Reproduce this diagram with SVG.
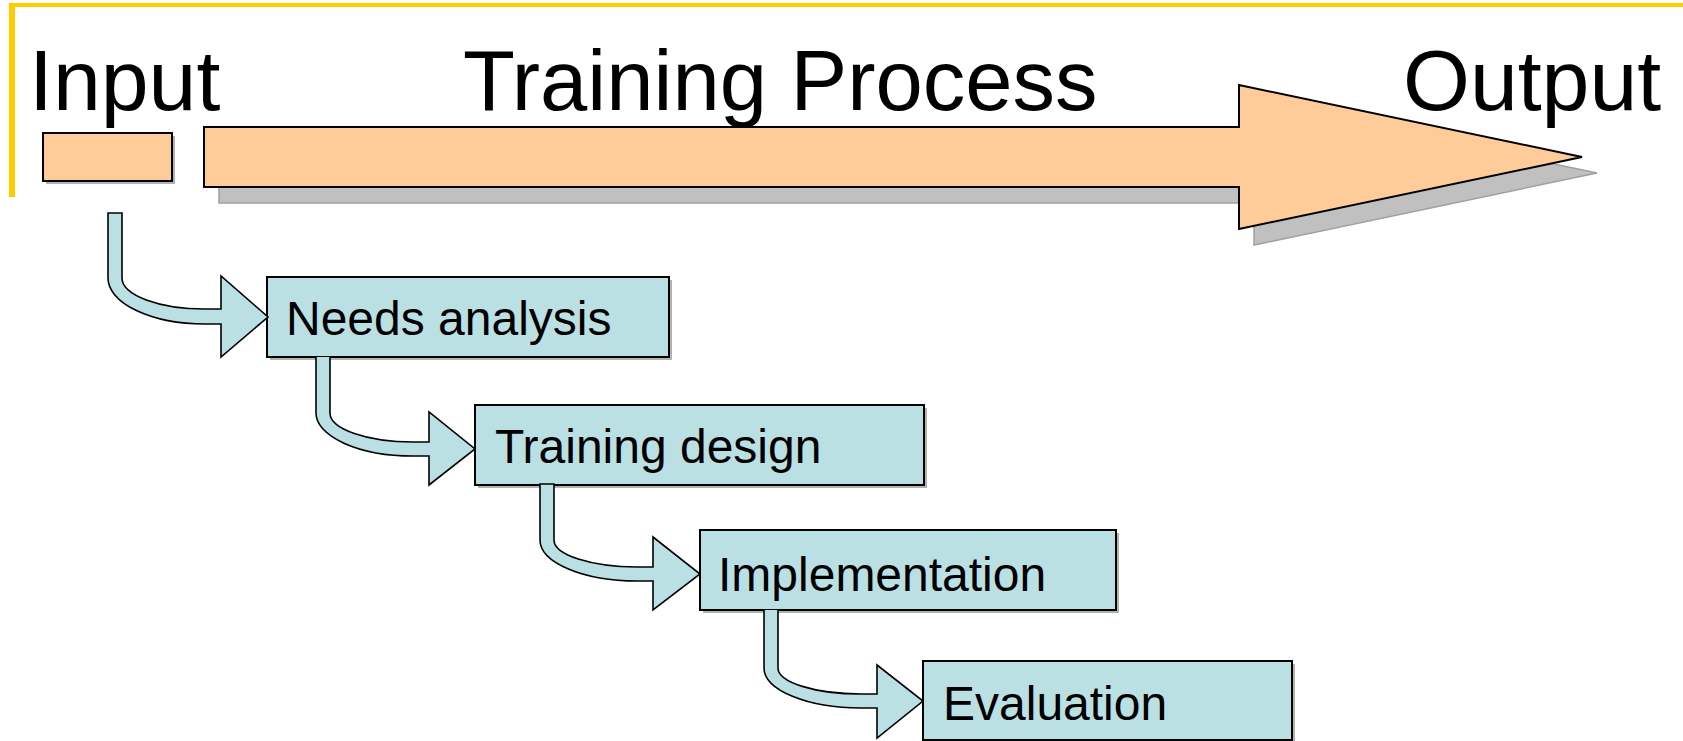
<svg xmlns="http://www.w3.org/2000/svg" width="1683" height="741" viewBox="0 0 1683 741">
<style>
.title{font-family:"Liberation Sans",Arial,sans-serif;font-size:86px;fill:#000}
.lbl{font-family:"Liberation Sans",Arial,sans-serif;font-size:48px;fill:#000}
.box{fill:#BBE0E3;stroke:#000;stroke-width:2}
.shd{fill:#B2B2B2}
.org{fill:#FFCC99;stroke:#000;stroke-width:2}
.conn{fill:#BBE0E3;stroke:#000;stroke-width:1.6;stroke-linejoin:miter}
</style>
<rect width="1683" height="741" fill="#fff"/>
<g id="frame">
<rect x="9" y="3" width="1674" height="4" fill="#FFCC00"/>
<rect x="9" y="3" width="6" height="194" fill="#FFCC00"/>
</g>
<g id="headings">
<text class="title" x="29" y="110">Input</text>
<text class="title" x="463" y="110" style="font-size:85px">Training Process</text>
<text class="title" x="1403" y="110">Output</text>
</g>
<g id="input">
<rect class="shd" x="46" y="136" width="129" height="48"/>
<rect class="org" x="43" y="133" width="129" height="48"/>
</g>
<g id="process-arrow">
<polygon points="219,143 1254,143 1254,101 1597,173 1254,245 1254,203 219,203" fill="#C0C0C0" stroke="#A0A0A0" stroke-width="1.5"/>
<polygon class="org" points="204,127 1239,127 1239,85 1582,157 1239,229 1239,187 204,187" stroke-width="1.6"/>
</g>
<g id="needs-analysis">
<rect class="shd" x="270" y="280" width="402" height="80"/>
<rect class="box" x="267" y="277" width="402" height="80"/>
<text class="lbl" x="286" y="335">Needs analysis</text>
</g>
<g id="training-design">
<rect class="shd" x="478" y="408" width="449" height="80"/>
<rect class="box" x="475" y="405" width="449" height="80"/>
<text class="lbl" x="495" y="463">Training design</text>
</g>
<g id="implementation">
<rect class="shd" x="703" y="533" width="416" height="80"/>
<rect class="box" x="700" y="530" width="416" height="80"/>
<text class="lbl" x="718" y="591">Implementation</text>
</g>
<g id="evaluation">
<rect class="shd" x="926" y="664" width="369" height="80"/>
<rect class="box" x="923" y="661" width="369" height="79"/>
<text class="lbl" x="943" y="720">Evaluation</text>
</g>
<g id="connectors">
<path class="conn" d="M108,213 L108,278 A97,46 0 0 0 205,324 L221,324 L221,357 L268,317 L221,276 L221,309 L205,309 A83,31 0 0 1 122,278 L122,213 Z"/>
<path class="conn" d="M316,357 L316,413 A97,43 0 0 0 413,456 L429,456 L429,485 L475,449 L429,412 L429,442 L413,442 A83,29 0 0 1 330,413 L330,357"/>
<path class="conn" d="M540,484 L540,540 A97,41 0 0 0 637,581 L653,581 L653,610 L700,574 L653,537 L653,567 L637,567 A83,27 0 0 1 554,540 L554,484 Z"/>
<path class="conn" d="M764,610 L764,668 A97,40 0 0 0 861,708 L877,708 L877,738 L923,701 L877,665 L877,694 L861,694 A83,26 0 0 1 778,668 L778,610"/>
</g>
</svg>
